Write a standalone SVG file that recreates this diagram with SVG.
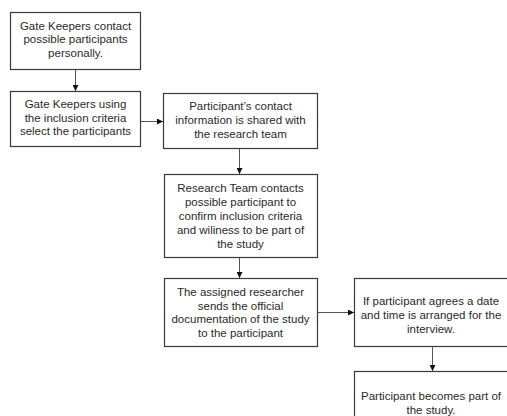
<svg xmlns="http://www.w3.org/2000/svg" width="507" height="416" viewBox="0 0 507 416">
<style>
.box{fill:#fff;stroke:#3a3a3a;stroke-width:1.2}
.t{font-family:"Liberation Sans",Arial,sans-serif;font-size:11.5px;fill:#2a2a2a;text-anchor:middle}
.c{stroke:#555;stroke-width:1;fill:none;marker-end:url(#ah)}
</style>
<defs>
<marker id="ah" viewBox="0 0 6 6" refX="6" refY="3" markerWidth="6" markerHeight="6" markerUnits="userSpaceOnUse" orient="auto">
<path d="M0,0 L6,3 L0,6 Z" fill="#111"/>
</marker>
</defs>
<rect width="507" height="416" fill="#fff"/>
<g id="connectors">
<line class="c" x1="75.5" y1="69" x2="75.5" y2="91"/>
<line class="c" x1="140" y1="121.5" x2="163" y2="121.5"/>
<line class="c" x1="239.5" y1="148" x2="239.5" y2="174"/>
<line class="c" x1="239.5" y1="257" x2="239.5" y2="278"/>
<line class="c" x1="317" y1="312.5" x2="354" y2="312.5"/>
<line class="c" x1="432.5" y1="346" x2="432.5" y2="371"/>
</g>
<g id="n1">
<rect class="box" x="10.5" y="12.5" width="130" height="57"/>
<text class="t" x="75.5" y="29.5">Gate Keepers contact</text>
<text class="t" x="75.5" y="43">possible participants</text>
<text class="t" x="75.5" y="56.5">personally.</text>
</g>
<g id="n2">
<rect class="box" x="10.5" y="91.5" width="130" height="55"/>
<text class="t" x="75.5" y="108">Gate Keepers using</text>
<text class="t" x="75.5" y="121.5">the inclusion criteria</text>
<text class="t" x="75.5" y="135">select the participants</text>
</g>
<g id="n3">
<rect class="box" x="163.5" y="93.5" width="154" height="55"/>
<text class="t" x="240.5" y="110">Participant’s contact</text>
<text class="t" x="240.5" y="124">information is shared with</text>
<text class="t" x="240.5" y="137.5">the research team</text>
</g>
<g id="n4">
<rect class="box" x="164.5" y="174.5" width="153" height="83"/>
<text class="t" x="240.5" y="192">Research Team contacts</text>
<text class="t" x="240.5" y="206">possible participant to</text>
<text class="t" x="240.5" y="220">confirm inclusion criteria</text>
<text class="t" x="240.5" y="234">and wiliness to be part of</text>
<text class="t" x="240.5" y="248">the study</text>
</g>
<g id="n5">
<rect class="box" x="164.5" y="278.5" width="153" height="68"/>
<text class="t" x="240.5" y="296">The assigned researcher</text>
<text class="t" x="240.5" y="309.5">sends the official</text>
<text class="t" x="240.5" y="323">documentation of the study</text>
<text class="t" x="240.5" y="337">to the participant</text>
</g>
<g id="n6">
<rect class="box" x="354.5" y="278.5" width="160" height="68"/>
<text class="t" x="431" y="305">If participant agrees a date</text>
<text class="t" x="431" y="319">and time is arranged for the</text>
<text class="t" x="431" y="333">interview.</text>
</g>
<g id="n7">
<rect class="box" x="354.5" y="371.5" width="160" height="60"/>
<text class="t" x="431" y="400">Participant becomes part of</text>
<text class="t" x="431" y="414">the study.</text>
</g>
</svg>
